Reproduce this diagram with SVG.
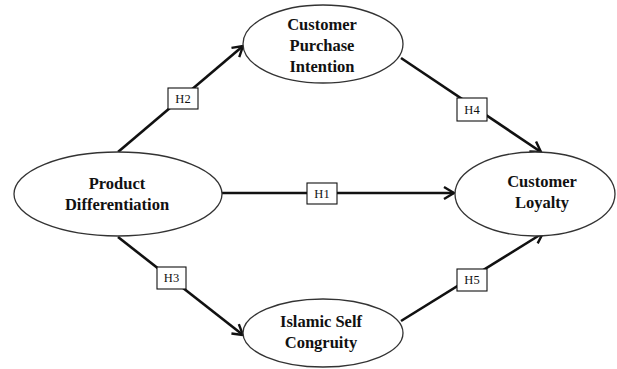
<svg xmlns="http://www.w3.org/2000/svg" width="617" height="369" viewBox="0 0 617 369">
  <style>
    .node ellipse { fill: #ffffff; stroke: #333333; stroke-width: 1.3; }
    .node text { font-family: "Liberation Serif", "DejaVu Serif", serif; font-size: 16.5px; font-weight: bold; fill: #111111; text-anchor: middle; }
    .edge line { stroke: #111111; stroke-width: 2.6; marker-end: url(#arrow); }
    .tag rect { fill: #ffffff; stroke: #111111; stroke-width: 1.1; }
    .tag text { font-family: "Liberation Serif", "DejaVu Serif", serif; font-size: 12.5px; fill: #111111; text-anchor: middle; }
  </style>
  <defs>
    <marker id="arrow" markerUnits="userSpaceOnUse" markerWidth="16" markerHeight="16" viewBox="-12 -8 14 16" refX="0" refY="0" orient="auto">
      <path d="M-10,-6 L0,0 L-10,6" fill="none" stroke="#111111" stroke-width="2.4" stroke-linejoin="miter"/>
    </marker>
  </defs>
  <rect width="617" height="369" fill="#ffffff"/>

  <!-- connectors -->
  <g id="connectors" class="edge">
    <line x1="118" y1="152" x2="243" y2="46"/>
    <line x1="222" y1="193" x2="454" y2="193"/>
    <line x1="401" y1="58" x2="541" y2="152"/>
    <line x1="118" y1="237" x2="243" y2="335"/>
    <line x1="401" y1="321" x2="543" y2="233"/>
  </g>

  <!-- hypothesis tags -->
  <g id="tags">
    <g class="tag" id="tag-h2"><rect x="168" y="88" width="30" height="21"/><text x="183" y="103">H2</text></g>
    <g class="tag" id="tag-h1"><rect x="307" y="183" width="30" height="21"/><text x="322" y="198">H1</text></g>
    <g class="tag" id="tag-h4"><rect x="457" y="98" width="30" height="23"/><text x="472" y="114">H4</text></g>
    <g class="tag" id="tag-h3"><rect x="157" y="267" width="29" height="22"/><text x="171.5" y="282">H3</text></g>
    <g class="tag" id="tag-h5"><rect x="457" y="269" width="30" height="22"/><text x="472" y="284">H5</text></g>
  </g>

  <!-- constructs -->
  <g class="node" id="customer-purchase-intention">
    <ellipse cx="323" cy="44" rx="80" ry="39"/>
    <text x="322" y="30">Customer</text>
    <text x="322" y="51">Purchase</text>
    <text x="322" y="72">Intention</text>
  </g>
  <g class="node" id="product-differentiation">
    <ellipse cx="118" cy="194" rx="104" ry="42"/>
    <text x="117" y="189">Product</text>
    <text x="117" y="210">Differentiation</text>
  </g>
  <g class="node" id="customer-loyalty">
    <ellipse cx="535" cy="194" rx="80" ry="42"/>
    <text x="542" y="187">Customer</text>
    <text x="542" y="208">Loyalty</text>
  </g>
  <g class="node" id="islamic-self-congruity">
    <ellipse cx="323" cy="333" rx="80" ry="34"/>
    <text x="321" y="327">Islamic Self</text>
    <text x="321" y="348">Congruity</text>
  </g>
</svg>
